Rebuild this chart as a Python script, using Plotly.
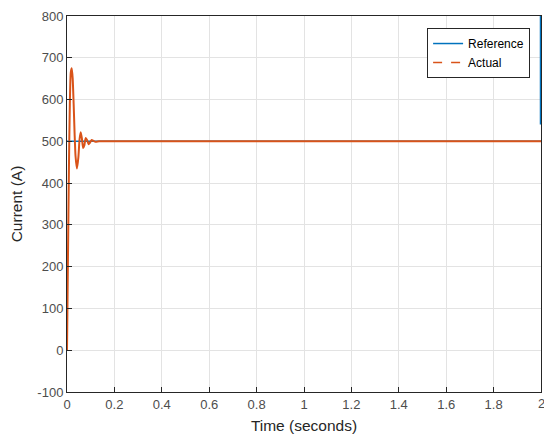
import plotly.graph_objects as go

# Reference signal (step to 500 A, with an edge spike at t = 2 s)
ref_t = [0, 2, 2, 2]
ref_i = [500, 500, None, 540]
ref_t2 = [2, 2]
ref_i2 = [540, 900]

# Actual current response
act_t = [0, 0.004, 0.008, 0.012, 0.016, 0.02, 0.024, 0.028, 0.032, 0.036, 0.042,
         0.048, 0.053, 0.058, 0.063, 0.068, 0.073, 0.079, 0.085, 0.091, 0.097,
         0.104, 0.112, 0.12, 0.135, 0.16, 2.0]
act_i = [0, 220, 430, 590, 665, 675, 650, 590, 520, 465, 435,
         462, 505, 522, 506, 484, 490, 508, 503, 493, 497,
         503, 501, 499, 500, 500, 500]

x_ticks = [0, 0.2, 0.4, 0.6, 0.8, 1, 1.2, 1.4, 1.6, 1.8]
x_labels = ["0", "0.2", "0.4", "0.6", "0.8", "1", "1.2", "1.4", "1.6", "1.8"]
x_last_tick = 2
x_last_label = "2"
y_ticks = [-100, 0, 100, 200, 300, 400, 500, 600, 700, 800]
y_labels = ["-100", "0", "100", "200", "300", "400", "500", "600", "700", "800"]

blue = "#0072BD"
orange = "#D95319"
tick_font = dict(family="Liberation Sans, Arial", size=13, color="#4d4d4d")

fig = go.Figure()
fig.add_trace(go.Scatter(x=ref_t, y=ref_i, mode="lines", name="Reference",
                         line=dict(color=blue, width=1.5), connectgaps=False))
fig.add_trace(go.Scatter(x=ref_t2, y=ref_i2, mode="lines", showlegend=False,
                         line=dict(color=blue, width=2.5)))
fig.add_trace(go.Scatter(x=act_t, y=act_i, mode="lines", showlegend=False,
                         line=dict(color=orange, width=2, shape="spline", smoothing=0.6)))
fig.add_trace(go.Scatter(x=[None], y=[None], mode="lines", name="Actual",
                         line=dict(color=orange, width=1.5, dash="dash")))

axis_common = dict(
    showgrid=True, gridcolor="#e3e3e3", gridwidth=1,
    showline=True, linecolor="#262626", linewidth=1, mirror=True,
    ticks="inside", ticklen=5, tickcolor="#262626",
    tickfont=tick_font,
    zeroline=False,
)

fig.update_layout(
    width=544, height=439,
    margin=dict(l=67, r=3, t=16, b=47),
    paper_bgcolor="white", plot_bgcolor="white",
    font=dict(family="Liberation Sans, Arial", color="#262626"),
    xaxis=dict(range=[0, 2], tickvals=x_ticks + [x_last_tick],
               ticktext=x_labels + [""],
               title=dict(text="Time (seconds)", standoff=9,
                          font=dict(size=15.5, color="#262626")),
               **axis_common),
    yaxis=dict(range=[-100, 800], tickvals=y_ticks, ticktext=y_labels,
               title=dict(text="Current (A)", standoff=10,
                          font=dict(size=15.5, color="#262626")),
               **axis_common),
    legend=dict(x=0.977, y=0.968, xanchor="right", yanchor="top",
                bgcolor="white", bordercolor="#262626", borderwidth=1,
                font=dict(size=12, color="#000000"),
                tracegroupgap=0, itemwidth=30),
    showlegend=True,
)

fig.add_annotation(x=x_last_tick, y=0, xref="x", yref="paper", yanchor="top",
                   yshift=-2, text=x_last_label, showarrow=False, font=tick_font)

fig.write_html("out.html")
